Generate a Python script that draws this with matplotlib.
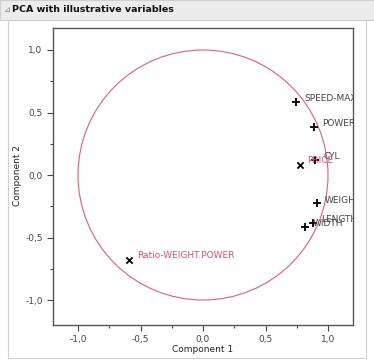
import matplotlib
matplotlib.use("Agg")
import matplotlib.pyplot as plt
import numpy as np
from matplotlib.patches import Rectangle, Circle
from matplotlib.ticker import FixedLocator, MultipleLocator

font = {'size': 7, 'family': 'DejaVu Sans'}
matplotlib.rc('font', **font)

# active variables
act_names = ["SPEED-MAX", "POWER", "CYL", "WEIGHT", "LENGTH", "WIDTH"]
act_x = [0.745, 0.89, 0.895, 0.91, 0.88, 0.815]
act_y = [0.585, 0.385, 0.12, -0.225, -0.38, -0.415]

# illustrative variables
ill_names = ["PRICE", "Ratio-WEIGHT.POWER"]
ill_x = [0.775, -0.59]
ill_y = [0.08, -0.68]

ticks = [-1.0, -0.5, 0.0, 0.5, 1.0]
tick_labels = ["-1,0", "-0,5", "0,0", "0,5", "1,0"]

W, H = 374, 363
fig = plt.figure(figsize=(W / 100, H / 100), dpi=100)

# header bar
fig.patches.append(Rectangle((0, 1 - 20 / H), 1, 20 / H, transform=fig.transFigure,
                             facecolor="#ececec", edgecolor="#d0d0d0", lw=0.8))
fig.text(4 / W, 1 - 10 / H, "\u22bf", color="#888888", fontsize=6, va="center")
fig.text(12 / W, 1 - 10 / H, "PCA with illustrative variables", fontsize=6.8,
         fontweight="bold", va="center", color="#111111")
# panel border
fig.patches.append(Rectangle((8 / W, 1 - 358 / H), 358 / W, 338 / H, transform=fig.transFigure,
                             facecolor="none", edgecolor="#d0d0d0", lw=0.8))

ax = fig.add_axes([53 / W, 1 - 325 / H, 300 / W, 297 / H])
ax.set_xlim(-1.2, 1.2)
ax.set_ylim(-1.2, 1.176)

ax.add_patch(Circle((0, 0), 1.0, facecolor="none", edgecolor="#e06070", lw=0.8))

ax.scatter(act_x, act_y, marker="+", s=40, color="black", linewidths=1.3, zorder=3)
for n, x, y in zip(act_names, act_x, act_y):
    ax.text(x + 0.065, y + 0.025, n, color="#444444", fontsize=6.5, va="center",
            ha="left", clip_on=True)

ax.scatter(ill_x, ill_y, marker="x", s=20, color="black", linewidths=1.3, zorder=3)
for n, x, y in zip(ill_names, ill_x, ill_y):
    ax.text(x + 0.06, y + 0.035, n, color="#e0506a", fontsize=6.5, va="center",
            ha="left", clip_on=True)

ax.xaxis.set_major_locator(FixedLocator(ticks))
ax.yaxis.set_major_locator(FixedLocator(ticks))
ax.set_xticklabels(tick_labels)
ax.set_yticklabels(tick_labels)
ax.xaxis.set_minor_locator(MultipleLocator(0.25))
ax.yaxis.set_minor_locator(MultipleLocator(0.25))
ax.tick_params(which="both", direction="out", colors="#444444", labelsize=6.5, width=0.8)
ax.tick_params(which="major", length=4)
ax.tick_params(which="minor", length=2.5)
for s in ax.spines.values():
    s.set_color("#555555")
    s.set_linewidth(1.0)

fig.text(203 / W, 1 - 349 / H, "Component 1", ha="center", va="center",
         fontsize=6.5, color="#222222")
fig.text(17 / W, 1 - 176 / H, "Component 2", ha="center", va="center",
         rotation=90, fontsize=6.5, color="#222222")

fig.savefig("out.png", dpi=100)
